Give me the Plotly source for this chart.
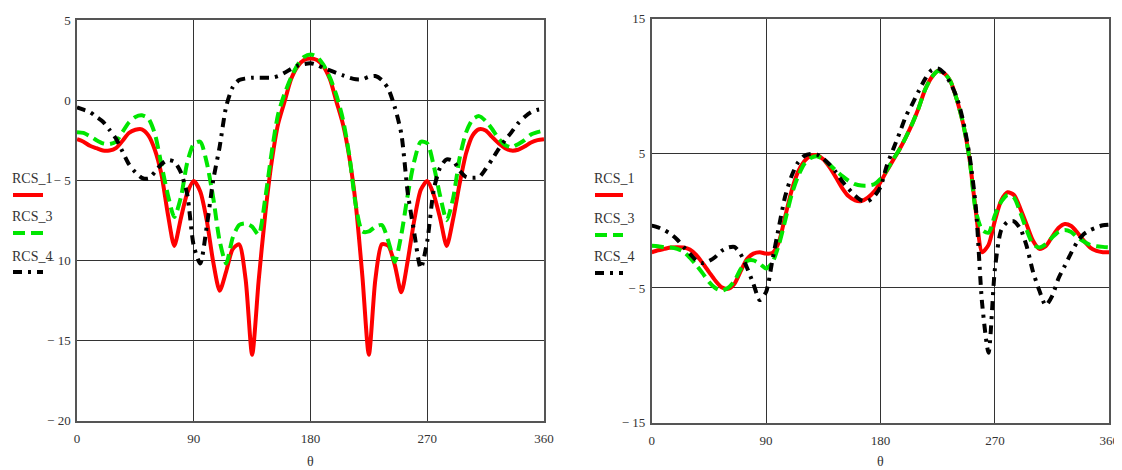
import plotly.graph_objects as go

# ---------------- data ----------------
theta = list(range(0, 361, 5))

left_rcs1 = [-2.44, -2.6, -2.85, -3.0, -3.15, -3.15, -3.0, -2.55, -2.05, -1.85,
             -1.82, -2.2, -3.1, -4.6, -7.1, -9.1, -7.4, -5.8, -5.05, -5.7,
             -7.5, -10.1, -11.9, -10.7, -9.3, -9.0, -11.2, -15.9, -11.3, -7.2,
             -3.9, -1.5, -0.1, 1.3, 2.1, 2.5, 2.6, 2.5, 2.1, 1.3,
             -0.1, -1.5, -3.6, -6.6, -11.0, -15.9, -11.2, -9.0, -9.1, -10.3,
             -12.0, -10.0, -7.5, -5.6, -5.05, -5.9, -7.4, -9.1, -7.4, -5.2,
             -3.3, -2.2, -1.82, -1.9, -2.3, -2.7, -3.0, -3.15, -3.1, -2.9,
             -2.65, -2.5, -2.44]

left_rcs3 = [-2.0, -2.05, -2.25, -2.5, -2.7, -2.75, -2.6, -2.0, -1.4, -1.05,
             -0.95, -1.15, -2.1, -4.0, -5.9, -7.3, -6.1, -3.9, -2.75, -2.6,
             -3.9, -6.1, -8.8, -10.2, -8.6, -7.8, -7.7, -7.9, -8.4, -6.2,
             -3.3, -0.9, 0.4, 1.4, 2.2, 2.7, 2.85, 2.7, 2.2, 1.4,
             0.3, -1.2, -3.5, -6.6, -8.2, -8.2, -7.9, -7.8, -8.8, -10.1,
             -8.4, -5.9, -3.8, -2.6, -2.7, -4.1, -6.0, -7.5, -6.1, -3.6,
             -2.0, -1.2, -1.0, -1.3, -1.8, -2.4, -2.8, -2.95, -2.75, -2.5,
             -2.15, -2.0, -1.9]

left_rcs4 = [-0.45, -0.6, -0.75, -1.05, -1.35, -1.85, -2.4, -3.2, -4.0, -4.5,
             -4.85, -4.9, -4.5, -4.0, -3.75, -3.85, -4.5, -5.9, -9.1, -10.2,
             -7.9, -5.0, -2.9, -0.4, 0.8, 1.25, 1.35, 1.4, 1.4, 1.4,
             1.4, 1.5, 1.7, 1.95, 2.15, 2.25, 2.3, 2.2, 2.0, 1.85,
             1.7, 1.55, 1.4, 1.3, 1.3, 1.45, 1.5, 1.25, 0.7, -0.45,
             -2.1, -5.8, -8.3, -10.5, -8.8, -5.6, -4.2, -3.7, -3.8, -4.4,
             -4.8, -4.85, -4.8, -4.3, -3.7, -3.06, -2.5, -2.0, -1.45, -1.05,
             -0.75, -0.6, -0.55]

right_rcs1 = [-2.35, -2.2, -2.1, -2.0, -1.97, -2.0, -2.15, -2.55, -3.15, -3.8,
              -4.45, -4.95, -5.07, -4.7, -3.75, -2.85, -2.45, -2.35, -2.45, -2.4,
              -1.6, 0.3, 2.2, 3.6, 4.4, 4.8, 4.85, 4.55, 3.95, 3.2,
              2.4, 1.8, 1.5, 1.45, 1.7, 2.15, 2.85, 3.7, 4.5, 5.3,
              6.2, 7.2, 8.35, 9.7, 10.6, 11.1, 10.95, 10.35, 9.0, 7.2,
              4.6, 0.7, -2.35, -1.8, 0.0, 1.5, 2.1, 1.9, 0.9, -0.3,
              -1.5, -2.1, -1.9, -1.2, -0.55, -0.25, -0.4, -0.9, -1.5, -2.0,
              -2.25, -2.35, -2.35]

right_rcs3 = [-1.86, -1.9, -1.98, -2.0, -2.1, -2.3, -2.75, -3.3, -3.9, -4.55,
              -5.0, -5.2, -5.0, -4.5, -3.6, -3.0, -2.95, -3.2, -3.55, -3.1,
              -1.8, 0.0, 1.9, 3.25, 4.2, 4.65, 4.78, 4.55, 4.15, 3.7,
              3.3, 2.95, 2.7, 2.6, 2.6, 2.7, 3.1, 3.75, 4.55, 5.3,
              6.2, 7.2, 8.35, 9.7, 10.6, 11.1, 10.95, 10.35, 9.0, 7.2,
              4.6, 0.7, -0.7, -0.9, 0.4, 1.4, 1.9, 1.7, 0.6, -0.7,
              -1.75, -2.0, -1.75, -1.25, -0.85, -0.7, -0.85, -1.25, -1.55, -1.8,
              -1.9, -1.95, -1.98]

right_rcs4 = [-0.37, -0.5, -0.72, -1.0, -1.4, -1.95, -2.45, -2.95, -3.15, -3.0,
              -2.7, -2.25, -2.0, -1.95, -2.5, -3.5, -4.7, -5.9, -5.3, -2.9,
              -0.5, 1.8, 3.3, 4.3, 4.8, 4.95, 4.9, 4.6, 4.15, 3.6,
              2.9, 2.35, 1.85, 1.5, 1.45, 1.8, 2.5, 4.1, 5.3, 6.5,
              7.75, 8.65, 9.6, 10.5, 11.15, 11.3, 10.95, 10.2, 9.15, 7.4,
              4.85, 1.0, -6.2, -9.8, -3.6, -0.7, -0.1, -0.05, -0.6, -1.9,
              -3.8, -5.2, -6.3, -5.6, -4.3, -3.35, -2.4, -1.55, -1.0, -0.7,
              -0.5, -0.35, -0.3]

series_names = ["RCS_1", "RCS_3", "RCS_4"]
x_ticks = [0, 90, 180, 270, 360]
left_y_ticks = [5, 0, -5, -10, -15, -20]
left_y_text = ["5", "0", "\u2212 5", "\u2212 10", "\u2212 15", "\u2212 20"]
right_y_ticks = [15, 5, -5, -15]
right_y_text = ["15", "5", "\u2212 5", "\u2212 15"]
x_title = "\u03b8"

# ---------------- styles / layout helpers ----------------
styles = [
    dict(color="#ff0000", width=4, dash="solid"),
    dict(color="#00e600", width=4, dash="12px,6px"),
    dict(color="#000000", width=4, dash="9px,6px,3px,6px"),
]
OFF = 8                      # default page body margin
W, H = 1122 - OFF, 470 - OFF
FONT = "Liberation Serif"


def px(x):
    return (x - OFF) / W


def py(y):
    return 1 - (y - OFF) / H


fig = go.Figure()
left_data = [left_rcs1, left_rcs3, left_rcs4]
right_data = [right_rcs1, right_rcs3, right_rcs4]
for name, ys, st in zip(series_names, left_data, styles):
    fig.add_trace(go.Scatter(x=theta, y=ys, name=name, mode="lines",
                             line=dict(color=st["color"], width=st["width"], dash=st["dash"],
                                       shape="spline", smoothing=0.7),
                             xaxis="x", yaxis="y", showlegend=False))
for name, ys, st in zip(series_names, right_data, styles):
    fig.add_trace(go.Scatter(x=theta, y=ys, name=name, mode="lines",
                             line=dict(color=st["color"], width=st["width"], dash=st["dash"],
                                       shape="spline", smoothing=0.7),
                             xaxis="x2", yaxis="y2", showlegend=False))

axis_common = dict(showline=True, mirror=True, linecolor="#555", linewidth=1.5,
                   showgrid=True, gridcolor="#333", gridwidth=1, zeroline=False,
                   automargin=False,
                   ticks="", tickfont=dict(family=FONT, size=13, color="#333"))

left_dom_x = [px(77), px(544)]
left_dom_y = [py(420.5), py(20)]
right_dom_x = [px(651.7), px(1109.3)]
right_dom_y = [py(422.7), py(18.5)]

fig.update_layout(
    width=W, height=H, autosize=False,
    margin=dict(l=0, r=0, t=0, b=0, pad=0),
    paper_bgcolor="white", plot_bgcolor="white",
    xaxis=dict(domain=left_dom_x, range=[0, 360], tickvals=x_ticks, anchor="y",
               ticklabelstandoff=5, **axis_common),
    yaxis=dict(domain=left_dom_y, range=[-20, 5], tickvals=left_y_ticks,
               ticktext=left_y_text, anchor="x", ticklabelstandoff=2, **axis_common),
    xaxis2=dict(domain=right_dom_x, range=[0, 360], tickvals=x_ticks, anchor="y2",
                ticklabelstandoff=5, **axis_common),
    yaxis2=dict(domain=right_dom_y, range=[-15, 15], tickvals=right_y_ticks,
                ticktext=right_y_text, anchor="x2", ticklabelstandoff=2, **axis_common),
)

# axis titles
for xc in [(left_dom_x[0] + left_dom_x[1]) / 2, (right_dom_x[0] + right_dom_x[1]) / 2]:
    fig.add_annotation(text=x_title, xref="paper", yref="paper", x=xc, y=py(461),
                       showarrow=False, font=dict(family=FONT, size=14, color="#333"),
                       xanchor="center", yanchor="middle")

# Mathcad-style legends: label above a short line sample
legend_specs = [
    (32, 13, 43, [179, 217, 256], [195, 233, 272]),
    (614, 595, 623, [178, 218, 256], [195, 235, 273]),
]
for xc, x0, x1, ty, ly in legend_specs:
    for name, st, tyy, lyy in zip(series_names, styles, ty, ly):
        fig.add_annotation(text=name, xref="paper", yref="paper", x=px(xc), y=py(tyy),
                           showarrow=False, xanchor="center", yanchor="middle",
                           font=dict(family=FONT, size=14, color="#333"))
        fig.add_shape(type="line", xref="paper", yref="paper",
                      x0=px(x0), x1=px(x1), y0=py(lyy), y1=py(lyy),
                      line=dict(color=st["color"], width=st["width"], dash=st["dash"]))

fig.write_html("out.html")
